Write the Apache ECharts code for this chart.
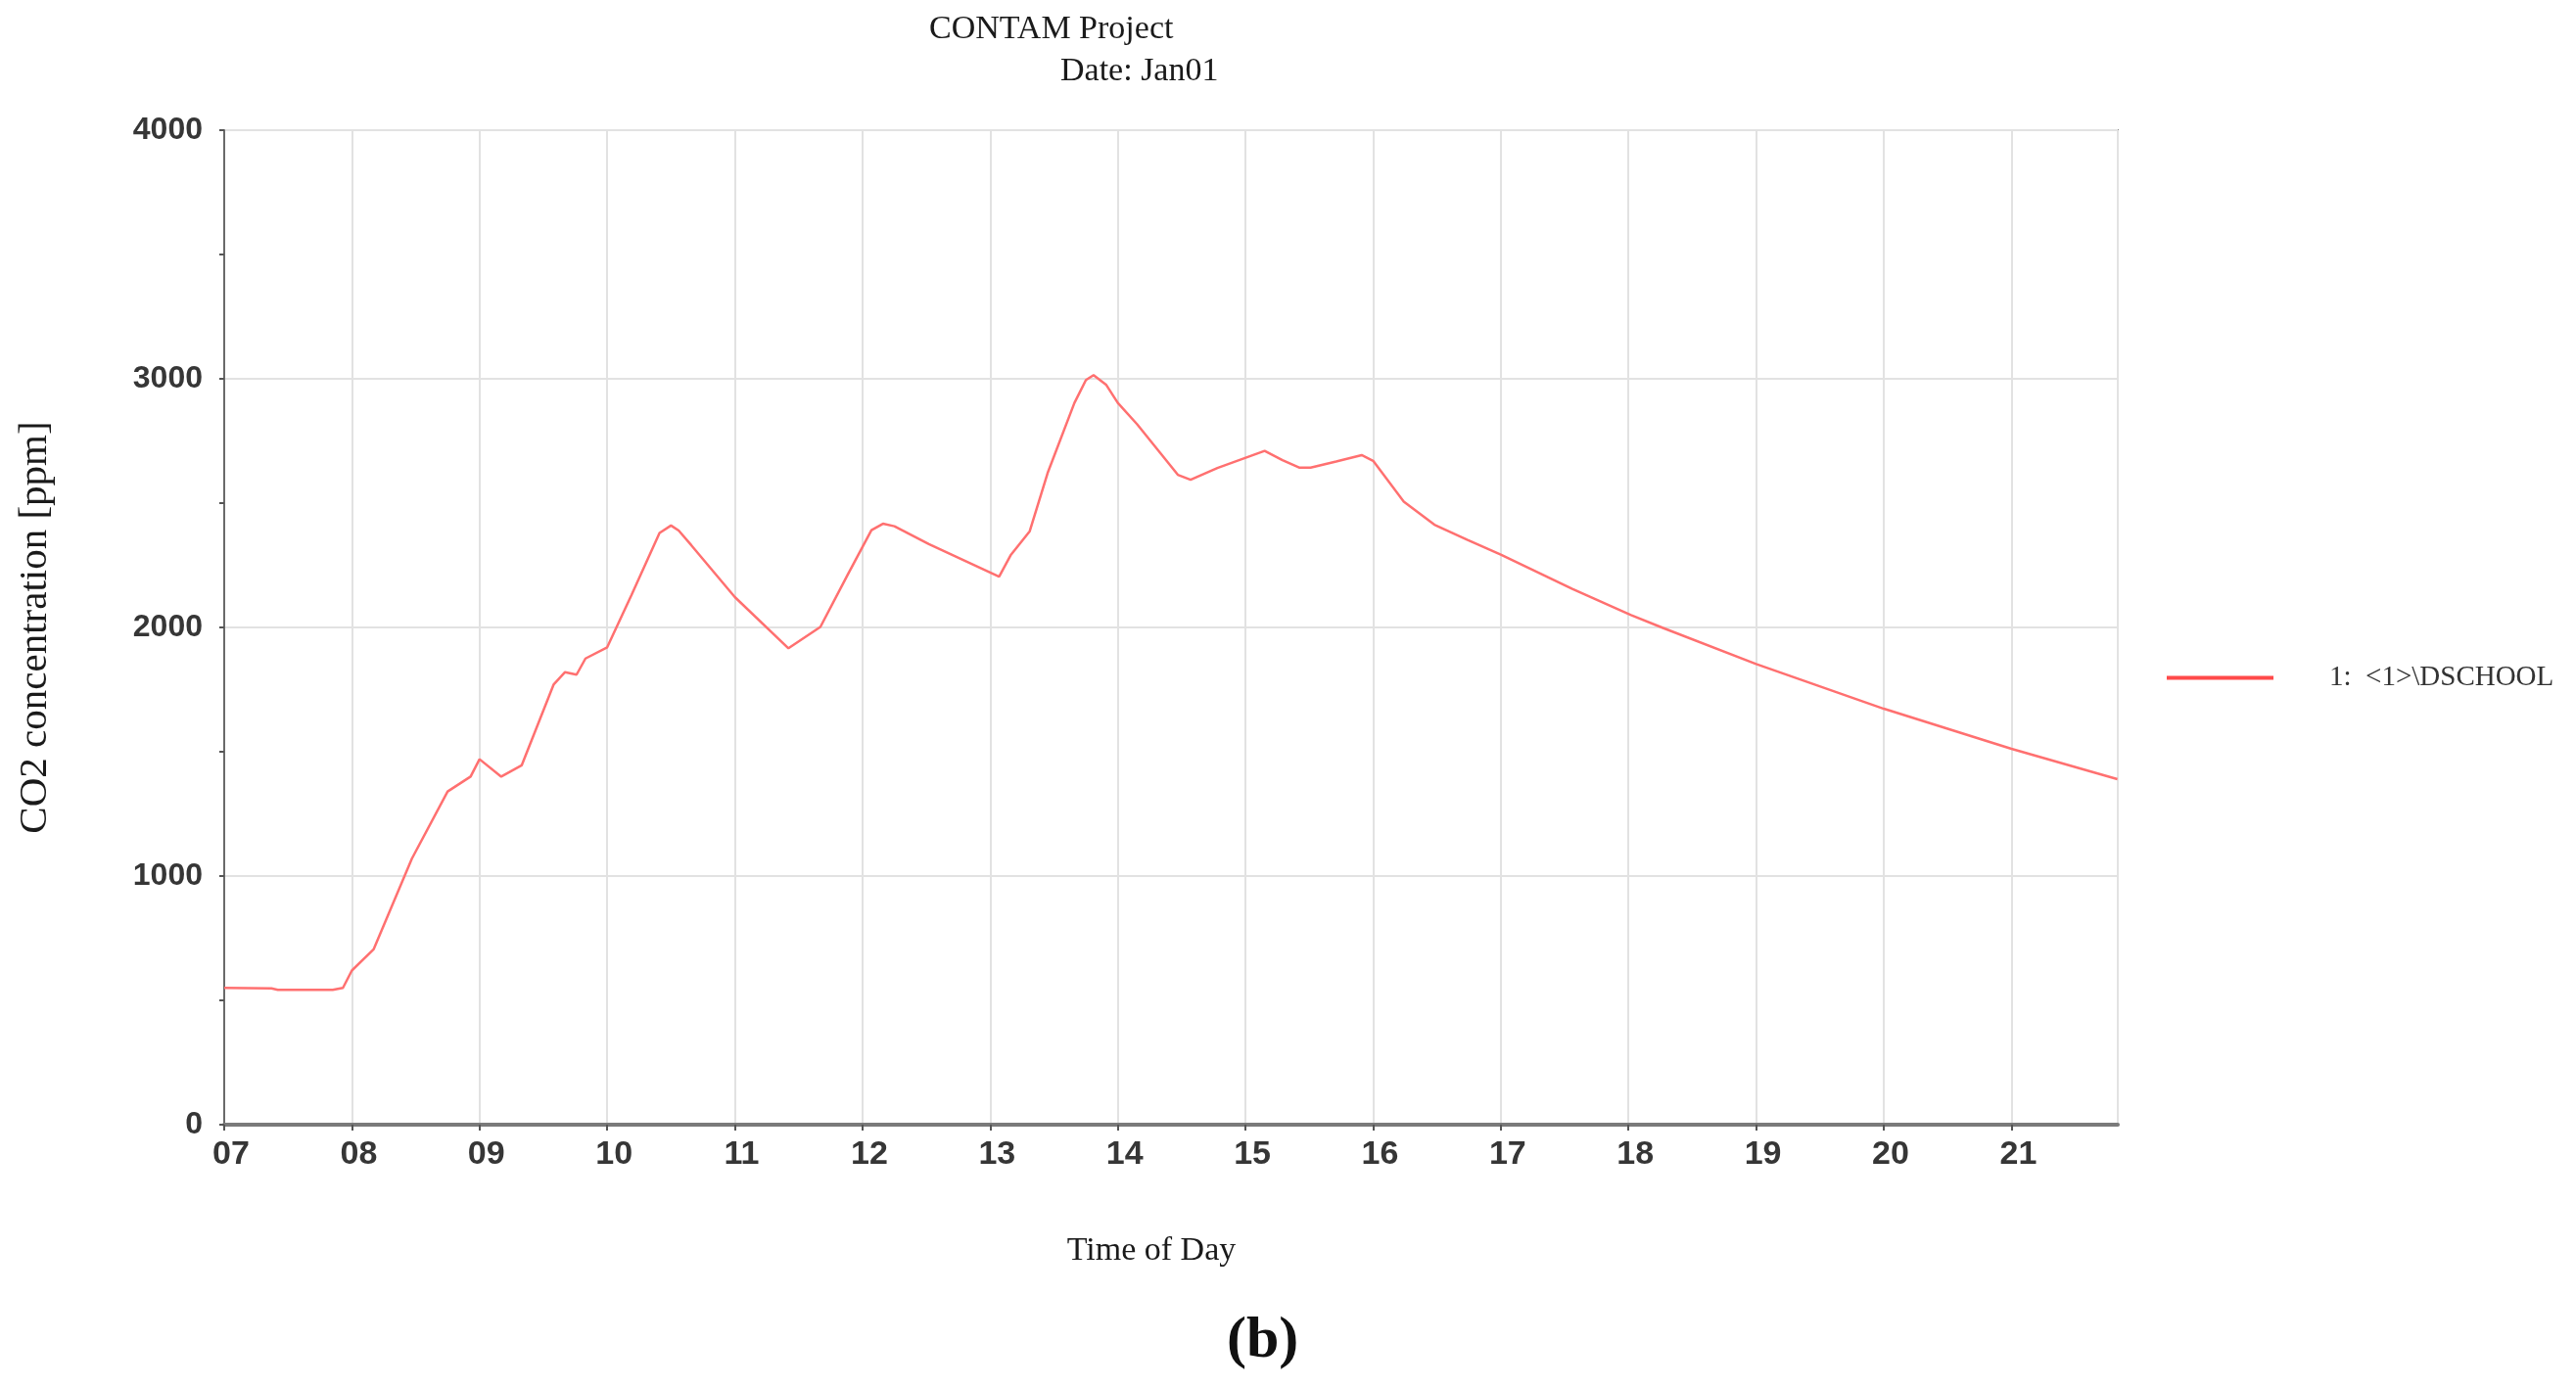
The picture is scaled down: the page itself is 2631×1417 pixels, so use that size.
<!DOCTYPE html>
<html>
<head>
<meta charset="utf-8">
<script src="https://cdn.jsdelivr.net/npm/echarts@6/dist/echarts.min.js"></script>
<style>
html,body{margin:0;padding:0;background:#fff;}
#chart{width:2631px;height:1417px;}
</style>
</head>
<body>
<div id="chart"></div>
<script>
// Time of day (decimal hours)
var timeHours = [7.00, 7.37, 7.42, 7.85, 7.93, 8.00, 8.17, 8.47, 8.75, 8.93, 9.00, 9.17, 9.33, 9.58, 9.67, 9.76, 9.83, 10.00, 10.19, 10.41, 10.50, 10.56, 10.66, 11.00, 11.42, 11.67, 11.88, 12.07, 12.16, 12.25, 12.52, 13.07, 13.16, 13.31, 13.45, 13.66, 13.75, 13.81, 13.91, 14.00, 14.15, 14.47, 14.57, 14.78, 15.15, 15.29, 15.42, 15.51, 15.71, 15.91, 16.00, 16.24, 16.48, 16.74, 17.00, 17.56, 18.02, 18.27, 19.00, 20.00, 21.00, 21.83];
// CO2 concentration [ppm]
var co2Values = [550, 548, 542, 542, 550, 620, 705, 1070, 1340, 1400, 1470, 1400, 1445, 1770, 1820, 1810, 1875, 1920, 2130, 2380, 2410, 2390, 2330, 2122, 1916, 2002, 2208, 2391, 2417, 2407, 2335, 2204, 2290, 2387, 2621, 2903, 2995, 3015, 2975, 2903, 2818, 2614, 2594, 2641, 2710, 2673, 2643, 2643, 2667, 2693, 2670, 2506, 2413, 2352, 2293, 2155, 2050, 1998, 1853, 1673, 1512, 1390];
var hourLabels = ['07','08','09','10','11','12','13','14','15','16','17','18','19','20','21'];
var yTickLabels = ['0','1000','2000','3000','4000'];
var seriesName = '1:  <1>\\DSCHOOL';

var data = timeHours.map(function(t, i){ return [t, co2Values[i]]; });

var chart = echarts.init(document.getElementById('chart'));
var serif = '"Liberation Serif", "DejaVu Serif", serif';
var sans = '"Liberation Sans", Arial, sans-serif';
chart.setOption({
  animation: false,
  backgroundColor: '#ffffff',
  title: [
    {text: 'CONTAM Project', left: 944, top: 8, textStyle: {fontFamily: serif, fontSize: 34, fontWeight: 'normal', color: '#1a1a1a'}},
    {text: 'Date: Jan01', left: 1078, top: 51, textStyle: {fontFamily: serif, fontSize: 34, fontWeight: 'normal', color: '#1a1a1a'}}
  ],
  legend: {
    left: 2208, top: 673,
    icon: 'rect', itemWidth: 109, itemHeight: 4,
    itemStyle: {color: '#ff4a4a'},
    textStyle: {fontFamily: serif, fontSize: 29, color: '#333', padding: [0, 0, 0, 52]},
    data: [seriesName]
  },
  grid: {left: 229, top: 133, right: 468, bottom: 268, outerBoundsMode: 'none', containLabel: false, show: true, borderColor: '#8f8f8f', borderWidth: 2, backgroundColor: '#fff'},
  xAxis: {
    type: 'value', min: 7, max: 21.833, interval: 1,
    name: 'Time of Day', nameLocation: 'middle', nameGap: 112,
    nameTextStyle: {fontFamily: serif, fontSize: 34, color: '#1a1a1a', padding: [0, 40, 0, 0]},
    axisLine: {show: true, lineStyle: {color: '#7a7a7a', width: 4}},
    axisTick: {show: true, length: 6, lineStyle: {color: '#555', width: 2}},
    axisLabel: {
      showMaxLabel: false, margin: 14, padding: [0, 0, 0, 14],
      fontFamily: sans, fontSize: 34, fontWeight: 'bold', color: '#363636',
      formatter: function(v){ var i = Math.round(v) - 7; return (Math.abs(v - Math.round(v)) < 1e-6 && hourLabels[i]) ? hourLabels[i] : ''; }
    },
    splitLine: {show: true, lineStyle: {color: '#e2e2e2', width: 2}}
  },
  yAxis: {
    type: 'value', min: 0, max: 4000, interval: 1000,
    name: 'CO2 concentration [ppm]', nameLocation: 'middle', nameGap: 172, nameRotate: 90,
    nameTextStyle: {fontFamily: serif, fontSize: 41, color: '#1a1a1a'},
    axisLine: {show: true, lineStyle: {color: '#6a6a6a', width: 2}},
    axisTick: {show: true, length: 5, lineStyle: {color: '#555', width: 2}},
    minorTick: {show: true, splitNumber: 2, length: 5, lineStyle: {color: '#555', width: 2}},
    axisLabel: {
      margin: 22, fontFamily: sans, fontSize: 32, fontWeight: 'bold', color: '#363636',
      formatter: function(v){ return yTickLabels[Math.round(v / 1000)]; }
    },
    splitLine: {show: true, lineStyle: {color: '#e2e2e2', width: 2}}
  },
  graphic: [
    {type: 'text', left: 1253, top: 1340, style: {text: '(b)', fontFamily: serif, fontSize: 60, fontWeight: 'bold', fill: '#111'}}
  ],
  series: [{
    name: seriesName, type: 'line', data: data,
    showSymbol: false, symbol: 'none',
    lineStyle: {color: '#ff7070', width: 2.5},
    itemStyle: {color: '#ff7070'}
  }]
});
</script>
</body>
</html>
